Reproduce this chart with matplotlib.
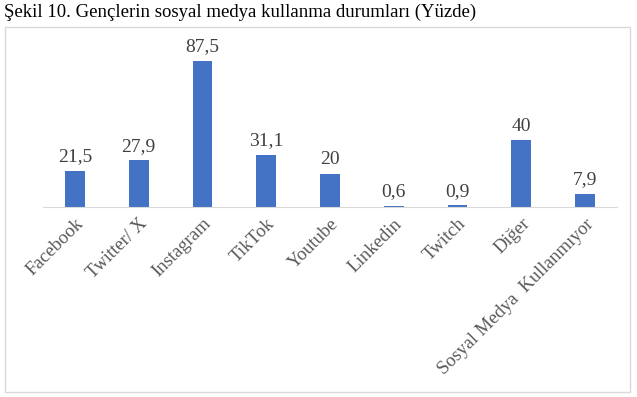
import matplotlib.pyplot as plt
from matplotlib.patches import Rectangle

categories = ['Facebook', 'Twitter/ X', 'Instagram', 'TikTok', 'Youtube',
              'Linkedin', 'Twitch', 'Diğer', 'Sosyal Medya  Kullanmıyor']
values = [21.5, 27.9, 87.5, 31.1, 20, 0.6, 0.9, 40, 7.9]
value_labels = ['21,5', '27,9', '87,5', '31,1', '20', '0,6', '0,9', '40', '7,9']

plt.rcParams['font.family'] = ['Liberation Serif', 'DejaVu Serif']

W, H = 637, 397
fig = plt.figure(figsize=(W / 100, H / 100), dpi=100)

# outer chart frame
fig.patches.append(Rectangle((5 / W, 5 / H), 625 / W, 365 / H, transform=fig.transFigure,
                             fill=False, edgecolor='#d9d9d9', linewidth=1))
fig.text(4 / W, (H - 12) / H, 'Şekil 10. Gençlerin sosyal medya kullanma durumları (Yüzde)',
         fontsize=13.5, va='center', ha='left', color='black')

ax = fig.add_axes([43 / W, (H - 207) / H, 574 / W, 167 / H])
x = range(len(categories))
bars = ax.bar(x, values, width=0.31, color='#4472C4')
ax.set_xlim(-0.5, len(categories) - 0.5)
ax.set_ylim(0, 100)

for b, lab in zip(bars, value_labels):
    ax.annotate(lab, (b.get_x() + b.get_width() / 2, b.get_height()),
                xytext=(0, 4), textcoords='offset points', ha='center', va='bottom',
                fontsize=14, color='#404040')

for s in ['top', 'right', 'left']:
    ax.spines[s].set_visible(False)
ax.spines['bottom'].set_color('#d9d9d9')
ax.set_yticks([])
ax.set_xticks(list(x))
ax.set_xticklabels(categories, rotation=45, ha='right', va='top', rotation_mode='anchor',
                   fontsize=13.5, color='#595959')
ax.tick_params(axis='x', length=0, pad=6)

fig.savefig('out.png', dpi=100)
